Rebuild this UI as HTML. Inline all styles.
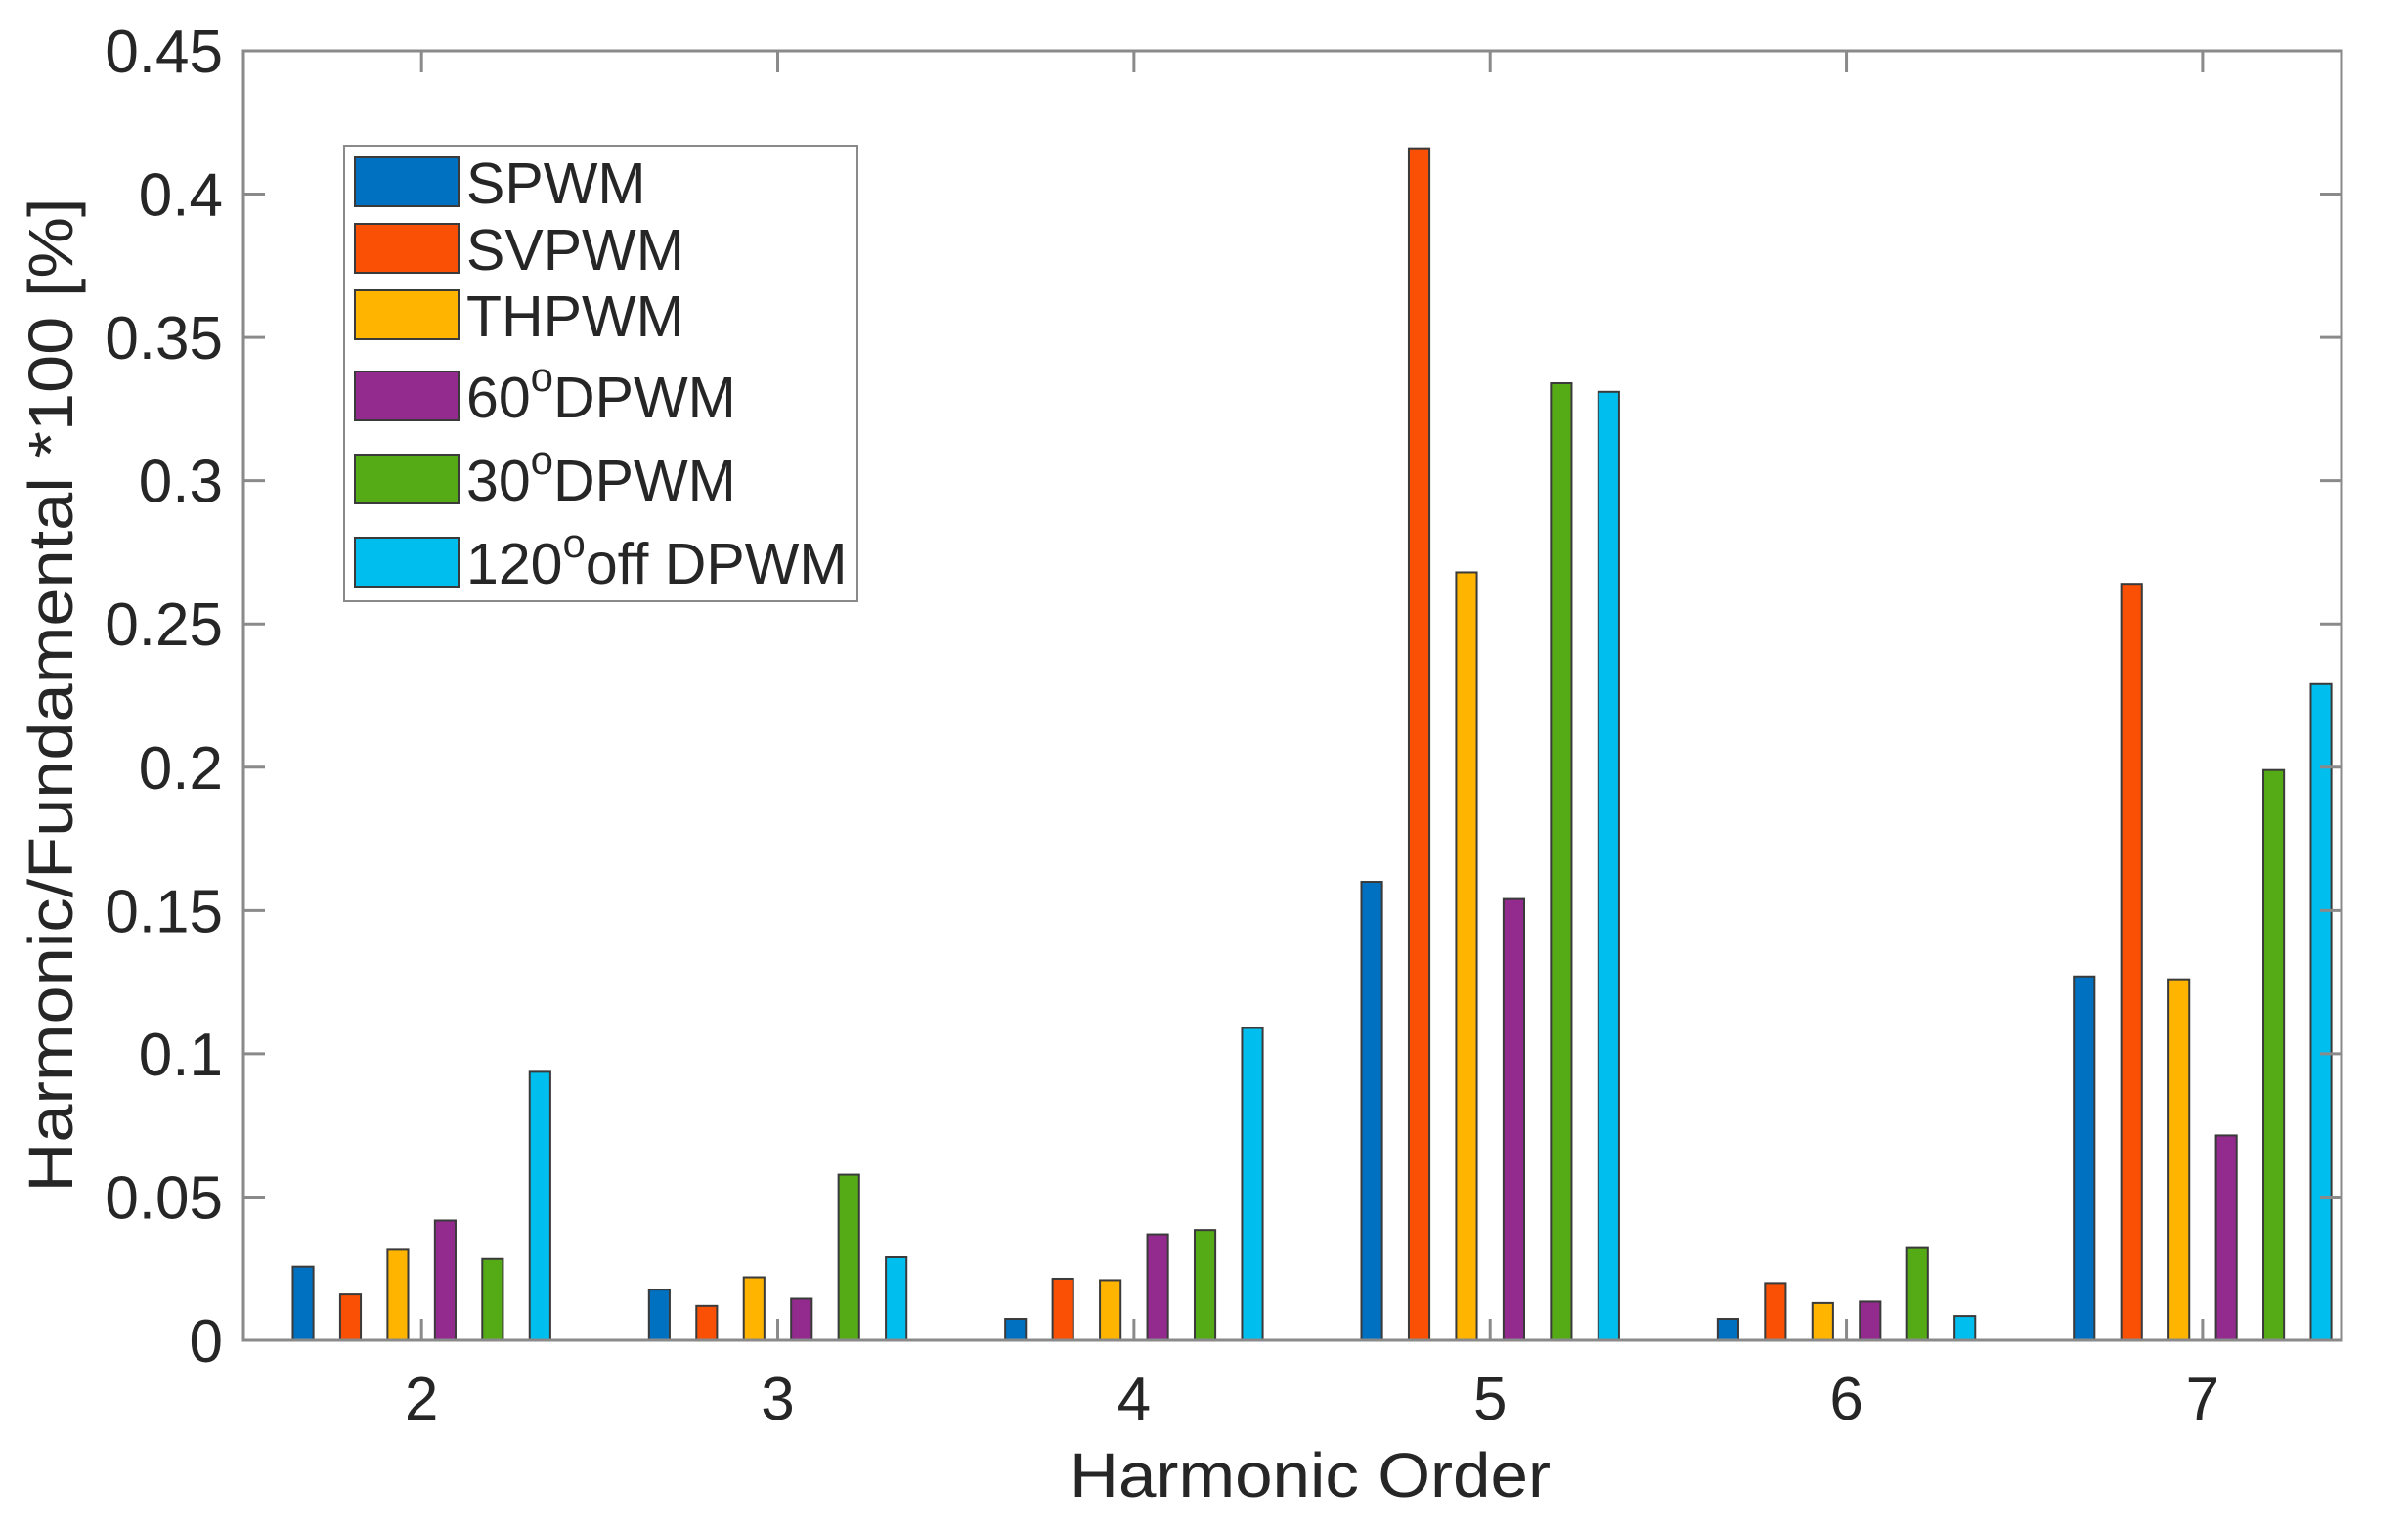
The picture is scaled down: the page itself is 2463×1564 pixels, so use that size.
<!DOCTYPE html>
<html><head><meta charset="utf-8"><style>
html,body{margin:0;padding:0;background:#fff;}
svg{display:block;}
text{font-family:"Liberation Sans",sans-serif;fill:#262626;}
</style></head><body>
<svg id="chart" width="2463" height="1564" viewBox="0 0 2463 1564" xmlns="http://www.w3.org/2000/svg">
<rect width="2463" height="1564" fill="#fff"/>
<g id="bars"></g>
<g id="axes"></g>
<g id="legend"></g>
</svg>
<script>
const categories = [2, 3, 4, 5, 6, 7];
const seriesNames = ["SPWM", "SVPWM", "THPWM", "60DPWM", "30DPWM", "120offDPWM"];
const spwm    = [0.0257, 0.0177, 0.0075, 0.160, 0.0075, 0.127];
const svpwm   = [0.0160, 0.0120, 0.0215, 0.416, 0.0200, 0.264];
const thpwm   = [0.0316, 0.0220, 0.0210, 0.268, 0.0130, 0.126];
const dpwm60  = [0.0418, 0.0145, 0.0370, 0.154, 0.0135, 0.0715];
const dpwm30  = [0.0284, 0.0578, 0.0385, 0.334, 0.0322, 0.199];
const dpwm120 = [0.0937, 0.0290, 0.1090, 0.331, 0.0085, 0.229];
const yTicks = [0, 0.05, 0.1, 0.15, 0.2, 0.25, 0.3, 0.35, 0.4, 0.45];
const yTickLabels = ["0", "0.05", "0.1", "0.15", "0.2", "0.25", "0.3", "0.35", "0.4", "0.45"];
const xTickLabels = ["2", "3", "4", "5", "6", "7"];

const series = [spwm, svpwm, thpwm, dpwm60, dpwm30, dpwm120];
const colors = ["#0071C1", "#FA5005", "#FFB400", "#932B8F", "#55AB16", "#00BFEF"];
const L = 249, R = 2395, T = 52, B = 1371;
const xMin = 1.5, xMax = 7.39, yMin = 0, yMax = 0.45;
const xS = v => L + (v - xMin) / (xMax - xMin) * (R - L);
const yS = v => B - (v - yMin) / (yMax - yMin) * (B - T);
const NS = "http://www.w3.org/2000/svg";
function mk(tag, attrs, parent){ const e=document.createElementNS(NS,tag); for(const k in attrs) e.setAttribute(k,attrs[k]); parent.appendChild(e); return e; }

const barsG = document.getElementById('bars');
const groupStep = 0.133, barW = 0.058;
series.forEach((vals, si) => {
  vals.forEach((v, ci) => {
    const cx = categories[ci] + (si - 2.5) * groupStep;
    const x0 = xS(cx - barW/2), x1 = xS(cx + barW/2);
    const r = mk('rect', {x:x0, y:yS(v), width:x1-x0, height:yS(0)-yS(v), fill:colors[si], stroke:'#3a3a3a', 'stroke-width':2}, barsG);
    
    
  });
});

const ax = document.getElementById('axes');
const box = mk('rect', {x:L, y:T, width:R-L, height:B-T, fill:'none', stroke:'#8a8a8a', 'stroke-width':3}, ax);


yTicks.forEach((t, i) => {
  const y = yS(t);
  mk('line', {x1:L, x2:L+22, y1:y, y2:y, stroke:'#8a8a8a', 'stroke-width':3}, ax);
  mk('line', {x1:R, x2:R-22, y1:y, y2:y, stroke:'#8a8a8a', 'stroke-width':3}, ax);
  const tx = mk('text', {x:228, y:y+22, 'text-anchor':'end', 'font-size':62}, ax);
  tx.textContent = yTickLabels[i];
  
  
});
categories.forEach((c, i) => {
  const x = xS(c);
  mk('line', {x1:x, x2:x, y1:B, y2:B-22, stroke:'#8a8a8a', 'stroke-width':3}, ax);
  mk('line', {x1:x, x2:x, y1:T, y2:T+22, stroke:'#8a8a8a', 'stroke-width':3}, ax);
  const tx = mk('text', {x:x, y:1452, 'text-anchor':'middle', 'font-size':62}, ax);
  tx.textContent = xTickLabels[i];
  
  
});
const xl = mk('text', {x:1340, y:1531, 'text-anchor':'middle', 'font-size':64, textLength:492, lengthAdjust:'spacingAndGlyphs'}, ax);
xl.textContent = 'Harmonic Order';


const yl = mk('text', {x:0, y:0, 'text-anchor':'middle', 'font-size':64, textLength:1017, lengthAdjust:'spacingAndGlyphs', transform:'translate(74,711) rotate(-90)'}, ax);
yl.textContent = 'Harmonic/Fundamental *100 [%]';



const lg = document.getElementById('legend');
const lbox = mk('rect', {x:352, y:149, width:525, height:466, fill:'#fff', stroke:'#8a8a8a', 'stroke-width':2}, lg);


const rowY = [186, 254, 322, 405, 490, 575];
const legendLabels = [["SPWM",""],["SVPWM",""],["THPWM",""],["60","DPWM"],["30","DPWM"],["120","off DPWM"]];
legendLabels.forEach((lab, i) => {
  const g = mk('g', {}, lg);
  
  
  mk('rect', {x:363, y:rowY[i]-25, width:106, height:50, fill:colors[i], stroke:'#3a3a3a', 'stroke-width':2}, g);
  const t = mk('text', {x:477, y:rowY[i]+22, 'font-size':59, fill:'#000'}, g);
  if (lab[1]) {
    t.appendChild(document.createTextNode(lab[0]));
    const s = mk('tspan', {dy:-27, 'font-size':42}, t); s.textContent = 'o';
    const r = mk('tspan', {dy:27, 'font-size':59}, t); r.textContent = lab[1];
  } else {
    t.textContent = lab[0];
  }
});
</script>
</body></html>
